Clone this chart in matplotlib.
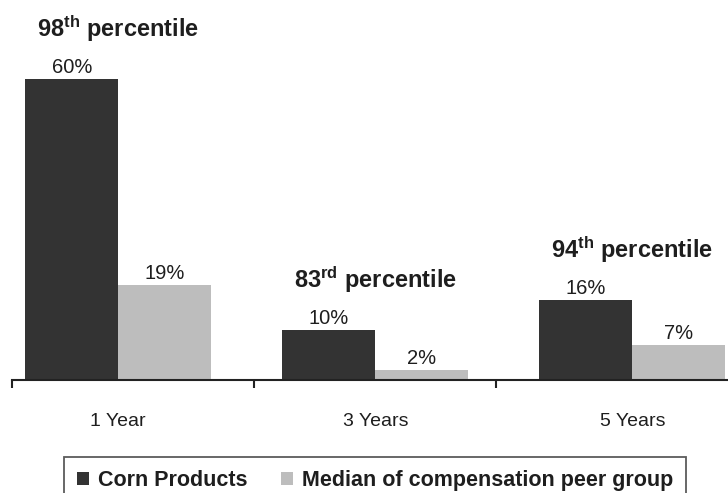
import numpy as np
import matplotlib
matplotlib.use("Agg")
import matplotlib.pyplot as plt
from matplotlib.patches import Patch

plt.rcParams['font.family'] = ['Liberation Sans', 'DejaVu Sans']
plt.rcParams['mathtext.fontset'] = 'custom'
plt.rcParams['mathtext.rm'] = 'Liberation Sans'
plt.rcParams['mathtext.bf'] = 'Liberation Sans:bold'
plt.rcParams['mathtext.it'] = 'Liberation Sans:italic'

# data
periods = ["1 Year", "3 Years", "5 Years"]
corn_products = [60, 10, 16]
peer_median = [19, 2, 7]
percentile_rank = ["98", "83", "94"]
percentile_suffix = ["th", "rd", "th"]
series_names = ["Corn Products", "Median of compensation peer group"]

DARK = "#333333"
LIGHT = "#bdbdbd"
TEXT = "#1e1e1e"

fig = plt.figure(figsize=(7.28, 4.93), dpi=100)
ax = fig.add_axes([0, (493 - 380) / 493, 1, 380 / 493])

x = np.arange(len(periods))
w = 0.362
ax.bar(x - w / 2, corn_products, w, color=DARK, edgecolor='none')
ax.bar(x + w / 2, peer_median, w, color=LIGHT, edgecolor='none')

for xi, v in zip(x - w / 2, corn_products):
    ax.annotate(f"{v}%", (xi, v), xytext=(0, 4.3), textcoords='offset points',
                ha='center', va='baseline', fontsize=14.5, color=TEXT)
for xi, v in zip(x + w / 2, peer_median):
    ax.annotate(f"{v}%", (xi, v), xytext=(0, 4.3), textcoords='offset points',
                ha='center', va='baseline', fontsize=14.5, color=TEXT)

# percentile rank above each group
for xi, v, r, s in zip(x, corn_products, percentile_rank, percentile_suffix):
    ax.annotate(r + r"$^{\mathbf{" + s + "}}$ percentile", (xi, v), xytext=(0, 30),
                textcoords='offset points', ha='center', va='baseline',
                fontsize=17, fontweight='bold', color=TEXT)

x0 = -0.4136
ax.set_xlim(-0.4603, 2.3724)
ax.set_ylim(0, 75.7)
for s in ['top', 'right', 'left']:
    ax.spines[s].set_visible(False)
ax.spines['bottom'].set_bounds(x0, 2.3724)
ax.spines['bottom'].set_color('#222222')
ax.spines['bottom'].set_linewidth(1.5)
ax.set_yticks([])
ax.set_xticks(x)
ax.set_xticklabels(periods, fontsize=14, color=TEXT)
ax.tick_params(axis='x', which='major', length=0, pad=24)
ax.set_xticks([x0, 0.528, 1.470], minor=True)
ax.tick_params(axis='x', which='minor', length=6, width=1.5, color='#222222', direction='out')

handles = [Patch(facecolor=DARK, edgecolor='none'), Patch(facecolor=LIGHT, edgecolor='none')]
leg = fig.legend(handles, series_names, loc='upper center',
                 bbox_to_anchor=(375 / 728, 1 - 457 / 493), ncol=2,
                 prop={'weight': 'bold', 'size': 15.5}, frameon=True, fancybox=False,
                 borderpad=0.6, borderaxespad=0, handlelength=0.56, handleheight=0.56,
                 handletextpad=0.42, columnspacing=1.58)
leg.get_frame().set_edgecolor('#333333')
leg.get_frame().set_linewidth(1.3)
for t in leg.get_texts():
    t.set_color(TEXT)

fig.savefig("out.png", dpi=100)
